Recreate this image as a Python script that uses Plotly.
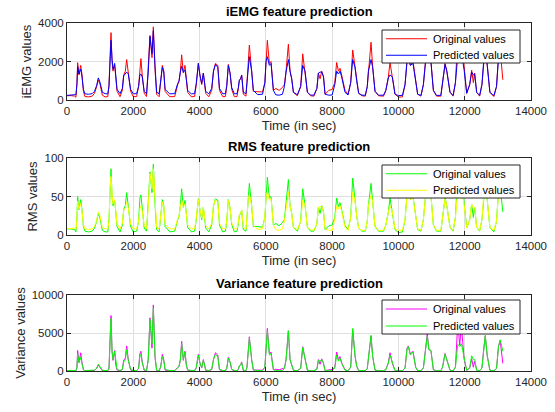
import plotly.graph_objects as go

# ---- data ----
time_s = [
    0, 120, 230, 270, 300, 322, 360, 413, 450, 495, 540,
    650, 760, 830, 895, 945, 1000, 1066, 1150, 1230,
    1267, 1300, 1328, 1360, 1388, 1438, 1475, 1510, 1600,
    1670, 1710, 1760, 1800, 1850, 1920, 2000, 2100,
    2160, 2200, 2230, 2270, 2330, 2400,
    2450, 2504, 2565, 2605, 2655, 2705, 2780,
    2826, 2877, 2920, 2960, 3100, 3250,
    3339, 3380, 3420, 3460, 3510, 3560, 3600, 3640, 3750, 3850,
    3900, 3963, 4010, 4064, 4114, 4185, 4280,
    4366, 4420, 4480, 4550, 4600, 4700, 4780,
    4820, 4868, 4920, 4969, 5050, 5130,
    5170, 5200, 5240, 5270, 5320, 5400,
    5430, 5472, 5502, 5572, 5622, 5750, 5900,
    5970, 6005, 6045, 6106, 6156, 6227, 6300, 6400, 6500,
    6560, 6609, 6680, 6730, 6780, 6831, 6950,
    7050, 7112, 7183, 7253, 7350, 7450,
    7540, 7585, 7635, 7686, 7740, 7786, 7900, 8000,
    8080, 8136, 8190, 8237, 8287, 8388, 8480,
    8560, 8620, 8690, 8740, 8800, 8900, 9000,
    9060, 9093, 9173, 9223, 9294, 9400, 9550,
    9620, 9696, 9746, 9817, 9897, 10000, 10120,
    10200, 10260, 10300, 10360, 10440, 10520, 10580, 10680,
    10753, 10820, 10870, 10920, 10980, 11055, 11150, 11280,
    11330, 11406, 11460, 11557, 11650,
    11720, 11790, 11850, 11900, 11980, 12060,
    12150, 12210, 12260, 12300, 12360, 12450,
    12520, 12580, 12620, 12680, 12760, 12880,
    12960, 13020, 13070, 13150,
]

iemg_orig = [
    220, 230, 200, 140, 900, 1940, 1300, 1800, 1350, 450, 180,
    160, 200, 350, 700, 1050, 800, 250, 160, 170,
    800, 2600, 3500, 2000, 1500, 1800, 1000, 450, 170,
    500, 1300, 1500, 2100, 1400, 450, 170, 180,
    700, 1900, 2150, 1300, 350, 180,
    1500, 3350, 2200, 3800, 1600, 300, 170,
    900, 1800, 1500, 450, 170, 180,
    800, 950, 1500, 2350, 1400, 1800, 1100, 400, 170, 180,
    800, 1900, 1300, 800, 1400, 350, 170,
    500, 1500, 1900, 1800, 500, 170, 180,
    700, 1850, 1400, 550, 170, 180,
    600, 1000, 1100, 1300, 300, 200,
    900, 2000, 2850, 1500, 450, 430, 420,
    900, 2200, 3100, 1900, 2000, 500, 600, 500, 650,
    800, 1500, 2900, 1500, 1100, 400, 220,
    700, 2400, 1500, 400, 220, 200,
    600, 1400, 1100, 1500, 1200, 300, 500, 550,
    900, 1950, 1500, 1650, 1300, 500, 300,
    900, 2600, 1700, 1000, 350, 220, 200,
    700, 1500, 3000, 1700, 450, 220, 200,
    500, 1200, 1950, 1200, 300, 150, 160,
    800, 2100, 2300, 1800, 2000, 900, 300, 200,
    800, 2100, 2900, 2100, 2000, 500, 200, 200,
    900, 1900, 1500, 400, 200,
    900, 3300, 2400, 3200, 1600, 350,
    800, 1550, 900, 1400, 400, 200,
    800, 2200, 2800, 1800, 400, 180,
    700, 2300, 2600, 1050,
]

iemg_pred = [
    240, 250, 260, 280, 800, 1750, 1350, 1600, 1250, 550, 320,
    300, 330, 450, 750, 1150, 900, 400, 330, 320,
    700, 2400, 3100, 2100, 1600, 1900, 1100, 550, 330,
    600, 1250, 1350, 1450, 1350, 550, 320, 330,
    700, 1300, 1350, 1200, 450, 320,
    1400, 3300, 2400, 3600, 1800, 400, 330,
    950, 1700, 1450, 550, 320, 330,
    850, 1000, 1450, 1750, 1450, 1550, 1100, 500, 320, 330,
    850, 1900, 1300, 850, 1400, 450, 320,
    600, 1500, 1850, 1700, 600, 320, 330,
    750, 1800, 1400, 650, 320, 330,
    650, 1050, 1100, 1300, 400, 330,
    900, 2000, 2250, 1500, 500, 280, 300,
    900, 2000, 2250, 1800, 1900, 500, 270, 250, 300,
    700, 1450, 2100, 1500, 1100, 400, 270,
    700, 1800, 1500, 400, 260, 250,
    600, 1400, 1450, 1450, 1200, 300, 250, 260,
    800, 1500, 1350, 1500, 1200, 400, 260,
    900, 2100, 1700, 1000, 350, 250, 250,
    700, 1500, 2100, 1700, 450, 250, 250,
    500, 1150, 1300, 1200, 300, 230, 240,
    800, 2000, 2100, 1800, 1900, 900, 300, 240,
    800, 2000, 2500, 2100, 2000, 500, 240, 240,
    900, 1850, 1500, 400, 240,
    900, 2300, 2200, 2400, 1600, 350,
    800, 1450, 1300, 1350, 400, 240,
    800, 2200, 2700, 1800, 400, 230,
    700, 2200, 2500, 2000,
]

rms_orig = [
    8, 8, 7, 4, 22, 50, 33, 46, 34, 11, 5,
    4, 5, 9, 18, 28, 21, 6, 4, 4,
    20, 66, 86, 50, 38, 45, 25, 11, 4,
    13, 33, 38, 55, 36, 11, 4, 5,
    18, 48, 52, 33, 9, 5,
    38, 82, 55, 92, 40, 7, 4,
    23, 46, 38, 11, 4, 5,
    20, 24, 38, 60, 36, 45, 28, 10, 4, 5,
    20, 47, 33, 20, 36, 9, 4,
    13, 38, 47, 45, 13, 4, 5,
    18, 46, 35, 14, 4, 5,
    15, 25, 28, 32, 7, 5,
    23, 50, 67, 38, 11, 11, 10,
    23, 55, 75, 48, 50, 13, 15, 12, 16,
    20, 38, 72, 38, 28, 10, 5,
    18, 60, 38, 10, 5, 5,
    15, 36, 28, 38, 30, 7, 12, 13,
    23, 48, 37, 42, 33, 12, 7,
    23, 74, 44, 25, 9, 5, 5,
    18, 38, 67, 43, 11, 5, 5,
    13, 30, 48, 30, 7, 3, 4,
    20, 54, 57, 46, 50, 23, 7, 5,
    20, 52, 70, 53, 52, 13, 5, 5,
    23, 48, 38, 10, 5,
    23, 80, 60, 78, 40, 9,
    20, 40, 23, 36, 10, 5,
    20, 56, 68, 45, 10, 4,
    18, 57, 63, 30,
]

rms_pred = [
    8, 9, 9, 7, 20, 44, 34, 41, 32, 14, 8,
    7, 8, 11, 19, 30, 24, 10, 8, 8,
    18, 60, 76, 52, 40, 46, 28, 14, 8,
    15, 32, 35, 43, 35, 14, 8, 8,
    18, 34, 38, 31, 12, 8,
    36, 80, 60, 86, 45, 10, 8,
    24, 43, 37, 14, 8, 8,
    21, 25, 36, 45, 37, 40, 28, 13, 8, 8,
    22, 46, 33, 22, 36, 12, 8,
    15, 38, 46, 43, 15, 8, 8,
    19, 45, 35, 16, 8, 8,
    17, 27, 28, 33, 10, 8,
    23, 50, 52, 38, 13, 7, 8,
    23, 50, 56, 45, 47, 13, 7, 6, 8,
    18, 37, 56, 38, 28, 10, 7,
    18, 45, 38, 10, 7, 6,
    15, 36, 37, 37, 30, 8, 6, 6,
    20, 38, 34, 38, 31, 10, 6,
    23, 56, 44, 25, 9, 6, 6,
    18, 38, 52, 43, 11, 6, 6,
    13, 30, 38, 30, 8, 6, 6,
    20, 52, 54, 46, 48, 23, 8, 6,
    20, 50, 64, 53, 51, 13, 6, 6,
    23, 47, 38, 10, 6,
    23, 58, 56, 60, 40, 9,
    20, 40, 35, 36, 10, 6,
    20, 55, 67, 45, 10, 6,
    18, 55, 63, 50,
]

var_orig = [
    60, 65, 50, 20, 480, 2700, 1100, 2400, 1200, 150, 30,
    20, 30, 80, 320, 800, 450, 40, 20, 20,
    400, 4400, 7300, 2600, 1400, 2700, 700, 130, 20,
    180, 1400, 1700, 3300, 1500, 120, 20, 20,
    350, 2300, 2600, 1200, 80, 20,
    1500, 7000, 3000, 8700, 1800, 50, 20,
    500, 2200, 1500, 120, 20, 25,
    400, 600, 1500, 3900, 1400, 2600, 800, 100, 20, 20,
    400, 2200, 1100, 400, 1500, 80, 20,
    180, 1500, 2400, 2100, 160, 20, 25,
    330, 1800, 1200, 200, 20, 25,
    230, 650, 800, 1200, 50, 25,
    500, 2600, 4500, 1500, 120, 120, 100,
    500, 3000, 5600, 2300, 2500, 170, 230, 150, 250,
    400, 1500, 5300, 1500, 800, 100, 30,
    330, 3200, 1500, 100, 30, 25,
    230, 1500, 900, 1600, 1000, 50, 150, 180,
    500, 2500, 1500, 1900, 1100, 150, 50,
    500, 5500, 2000, 650, 80, 30, 25,
    330, 1500, 4600, 1900, 120, 30, 25,
    170, 1100, 2400, 1000, 50, 15, 15,
    400, 3000, 3300, 2200, 2600, 500, 50, 25,
    400, 2700, 4900, 2800, 2700, 170, 25, 25,
    500, 2300, 1500, 100, 25,
    500, 6300, 3400, 6000, 1600, 80,
    400, 1600, 500, 1300, 100, 25,
    400, 3200, 4600, 2000, 100, 20,
    330, 3300, 4000, 1000,
]

var_pred = [
    60, 70, 70, 50, 400, 2300, 1100, 1800, 1000, 200, 60,
    50, 60, 120, 360, 900, 550, 100, 60, 60,
    320, 3600, 6900, 2600, 1500, 2600, 800, 200, 60,
    230, 1200, 1500, 2800, 1400, 200, 60, 60,
    350, 2000, 2200, 1100, 150, 60,
    1400, 6800, 3600, 8300, 2000, 100, 60,
    550, 1900, 1400, 200, 60, 60,
    450, 650, 1400, 3600, 1500, 2500, 800, 170, 60, 60,
    450, 2100, 1100, 450, 1400, 150, 60,
    230, 1500, 2200, 1900, 230, 60, 60,
    360, 1700, 1200, 260, 60, 60,
    290, 700, 800, 1100, 100, 60,
    500, 2600, 4300, 1500, 170, 50, 60,
    500, 2800, 5300, 2100, 2300, 170, 50, 40, 60,
    320, 1400, 5300, 1500, 800, 100, 50,
    330, 3100, 1500, 100, 50, 40,
    230, 1400, 1300, 1500, 1000, 60, 40, 40,
    400, 2100, 1300, 1700, 1000, 100, 40,
    500, 5600, 2000, 650, 80, 40, 40,
    330, 1500, 4700, 1900, 120, 40, 40,
    170, 1000, 2100, 1000, 60, 40, 40,
    400, 2900, 3200, 2100, 2500, 500, 60, 40,
    400, 2600, 4600, 2800, 2700, 170, 40, 40,
    500, 2200, 1500, 100, 40,
    500, 3500, 3200, 3600, 1600, 80,
    400, 2000, 1500, 1500, 100, 40,
    400, 3100, 4700, 2000, 100, 40,
    330, 3200, 4100, 2600,
]

titles = ["iEMG feature prediction", "RMS feature prediction", "Variance feature prediction"]
y_labels = ["iEMG values", "RMS values", "Variance values"]
series_names = ["Original values", "Predicted values"]
x_ticks = [0, 2000, 4000, 6000, 8000, 10000, 12000, 14000]
y_ranges = [[0, 4000], [0, 100], [0, 10000]]
y_ticks = [[0, 2000, 4000], [0, 50, 100], [0, 5000, 10000]]

for arr in (iemg_orig, iemg_pred, rms_orig, rms_pred, var_orig, var_pred):
    assert len(arr) == len(time_s), (len(arr), len(time_s))

# ---- styling ----
W, H = 555, 412
AX = "#262626"
GRID = "#dfdfdf"
FONT = "Liberation Sans, Arial, Helvetica, sans-serif"
colors = [("#ff0000", "#0000ff"), ("#00ff00", "#ffff00"), ("#ff00ff", "#00ff00")]
data = [(iemg_orig, iemg_pred), (rms_orig, rms_pred), (var_orig, var_pred)]


def px(x):
    return x / W


def py(y):
    return (H - y) / H


x_dom = [px(67), px(531)]
panel_px = [(23, 100), (158, 235), (295, 371)]  # top, bottom in window pixels
legend_box_px = [(30, 63), (165, 198), (300, 334)]
LEG_X0, LEG_X1 = 382, 520
LINE_X0, LINE_X1 = 386, 427
TEXT_X = 431

fig = go.Figure()
layout = dict(
    width=W, height=H, autosize=False,
    margin=dict(l=0, r=0, t=0, b=0, autoexpand=False),
    paper_bgcolor="white", plot_bgcolor="white",
    font=dict(family=FONT, color=AX, size=12),
    showlegend=False,
    annotations=[], shapes=[],
)

for i in range(3):
    sfx = "" if i == 0 else str(i + 1)
    orig, pred = data[i]
    c_o, c_p = colors[i]
    fig.add_trace(go.Scatter(x=time_s, y=orig, mode="lines", name=series_names[0],
                             line=dict(color=c_o, width=1), xaxis="x" + sfx, yaxis="y" + sfx))
    fig.add_trace(go.Scatter(x=time_s, y=pred, mode="lines", name=series_names[1],
                             line=dict(color=c_p, width=1), xaxis="x" + sfx, yaxis="y" + sfx))
    top, bot = panel_px[i]
    y_dom = [py(bot), py(top)]
    common = dict(showline=True, linecolor=AX, linewidth=1, mirror="ticks",
                  ticks="inside", ticklen=4, tickcolor=AX, tickwidth=1,
                  showgrid=True, gridcolor=GRID, gridwidth=1, zeroline=False,
                  automargin=False,
                  tickfont=dict(family=FONT, size=11.5, color=AX), tickformat="d")
    layout["xaxis" + sfx] = dict(common, domain=x_dom, anchor="y" + sfx, range=[0, 14000],
                                 tickvals=x_ticks,
                                 title=dict(text="Time (in sec)", standoff=5,
                                            font=dict(family=FONT, size=13, color=AX)))
    layout["yaxis" + sfx] = dict(common, domain=y_dom, anchor="x" + sfx, range=y_ranges[i],
                                 tickvals=y_ticks[i],
                                 title=dict(text=y_labels[i], standoff=3,
                                            font=dict(family=FONT, size=13, color=AX)))
    # panel title
    layout["annotations"].append(dict(
        text="<b>" + titles[i] + "</b>", xref="paper", yref="paper",
        x=(x_dom[0] + x_dom[1]) / 2, y=py(top - 2), xanchor="center", yanchor="bottom",
        showarrow=False, font=dict(family=FONT, size=13, color="#000000")))
    # legend box (drawn like the MATLAB legend)
    lt, lb = legend_box_px[i]
    layout["shapes"].append(dict(type="rect", xref="paper", yref="paper", layer="above",
                                 x0=px(LEG_X0), x1=px(LEG_X1), y0=py(lb), y1=py(lt),
                                 fillcolor="white", line=dict(color=AX, width=1)))
    row_h = (lb - lt) / 2
    for k, (name, col) in enumerate(zip(series_names, (c_o, c_p))):
        yc = lt + row_h * (k + 0.5) + 0.5
        layout["shapes"].append(dict(type="line", xref="paper", yref="paper", layer="above",
                                     x0=px(LINE_X0), x1=px(LINE_X1), y0=py(yc), y1=py(yc),
                                     line=dict(color=col, width=1)))
        layout["annotations"].append(dict(
            text=name, xref="paper", yref="paper", x=px(TEXT_X), y=py(yc),
            xanchor="left", yanchor="middle", showarrow=False,
            font=dict(family=FONT, size=11, color="#000000")))

fig.update_layout(**layout)
# remove the browser's default 8px page margin so the figure fills the window exactly
fig.write_html("out.html",
               config={"displayModeBar": False, "staticPlot": True},
               post_script="document.body.style.margin='0';document.body.style.overflow='hidden';")
